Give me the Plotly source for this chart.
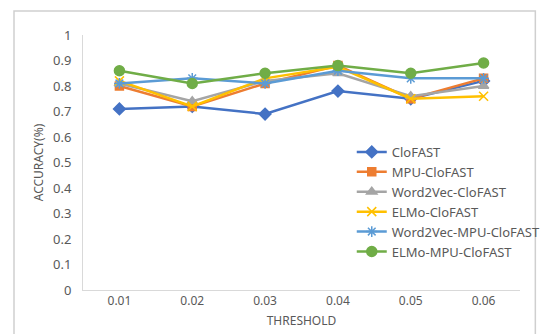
import plotly.graph_objects as go

thresholds = ["0.01", "0.02", "0.03", "0.04", "0.05", "0.06"]
clofast = [0.71, 0.72, 0.69, 0.78, 0.75, 0.82]
mpu_clofast = [0.80, 0.72, 0.81, 0.88, 0.75, 0.83]
w2v_clofast = [0.81, 0.74, 0.82, 0.85, 0.76, 0.80]
elmo_clofast = [0.82, 0.72, 0.83, 0.875, 0.75, 0.76]
w2v_mpu_clofast = [0.81, 0.83, 0.81, 0.86, 0.83, 0.83]
elmo_mpu_clofast = [0.86, 0.81, 0.85, 0.88, 0.85, 0.89]

series = [
    ("CloFAST", clofast, "#4472C4", "diamond", 9),
    ("MPU-CloFAST", mpu_clofast, "#ED7D31", "square", 8),
    ("Word2Vec-CloFAST", w2v_clofast, "#A5A5A5", "triangle-up", 9),
    ("ELMo-CloFAST", elmo_clofast, "#FFC000", "x-thin-open", 9),
    ("Word2Vec-MPU-CloFAST", w2v_mpu_clofast, "#5B9BD5", "asterisk-open", 9),
    ("ELMo-MPU-CloFAST", elmo_mpu_clofast, "#70AD47", "circle", 10),
]

fig = go.Figure()
for name, vals, color, sym, size in series:
    fig.add_trace(go.Scatter(
        x=thresholds, y=vals, name=name, mode="lines+markers",
        line=dict(color=color, width=2.5),
        marker=dict(symbol=sym, size=size, color=color,
                    line=dict(color=color, width=1.5)),
    ))

fig.update_layout(
    width=550, height=334,
    margin=dict(l=75, r=19, t=27, b=52),
    paper_bgcolor="white", plot_bgcolor="white",
    font=dict(family="Noto Sans, Open Sans, sans-serif", color="#595959", size=12),
    showlegend=True,
    legend=dict(x=0.615, y=0.6, xanchor="left", yanchor="top",
                bgcolor="rgba(0,0,0,0)", font=dict(size=13, color="#595959"),
                itemwidth=30, tracegroupgap=0),
    xaxis=dict(type="category", showline=True, linecolor="#D9D9D9", linewidth=1,
               showgrid=False, ticks="", tickfont=dict(size=12, color="#595959"),
               title=dict(text="THRESHOLD", font=dict(size=12, color="#595959"), standoff=8),
               range=[-0.5, 5.5]),
    yaxis=dict(range=[0, 1], dtick=0.1, showline=True, linecolor="#D9D9D9", linewidth=1,
               showgrid=False, zeroline=False, ticks="",
               tickfont=dict(size=13, color="#595959"),
               tickformat="~g", ticklabelstandoff=8,
               title=dict(text="ACCURACY(%)", font=dict(size=12, color="#595959"), standoff=6)),
    shapes=[dict(type="rect", xref="paper", yref="paper",
                 x0=(3 - 75) / 456, x1=(547 - 75) / 456,
                 y0=(282 - 330) / 255, y1=(282 - 3) / 255,
                 line=dict(color="#CFCFCF", width=1.5), fillcolor="rgba(0,0,0,0)", layer="below")],
)

fig.write_html("out.html")
